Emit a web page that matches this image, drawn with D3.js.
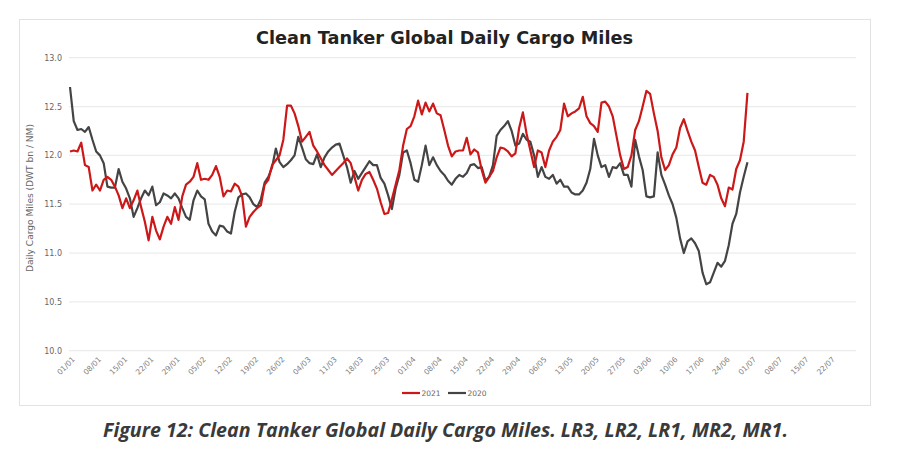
<!DOCTYPE html>
<html>
<head>
<meta charset="utf-8">
<script src="https://cdnjs.cloudflare.com/ajax/libs/d3/7.8.5/d3.min.js"></script>
<style>
  body { margin: 0; background: #fff; }
  svg { display: block; }
</style>
</head>
<body>
<script>
// daily values from 01/01
var startDate = "01/01/2020";
var seriesNames = ["2021", "2020"];
var seriesColors = ["#cc1818", "#444444"];

var values2021 = [
  12.04, 12.05, 12.04, 12.13, 11.90, 11.88, 11.64, 11.70, 11.64, 11.75,
  11.78, 11.75, 11.68, 11.59, 11.46, 11.56, 11.46, 11.54, 11.64, 11.47,
  11.32, 11.13, 11.37, 11.23, 11.14, 11.27, 11.37, 11.30, 11.47, 11.34,
  11.58, 11.70, 11.73, 11.78, 11.92, 11.75, 11.76, 11.75, 11.80, 11.89,
  11.78, 11.58, 11.64, 11.63, 11.71, 11.68, 11.58, 11.27, 11.37, 11.42,
  11.46, 11.49, 11.70, 11.75, 11.90, 11.95, 12.00, 12.16, 12.51, 12.51,
  12.43, 12.30, 12.14, 12.19, 12.24, 12.10, 12.04, 11.97, 11.90, 11.85,
  11.80, 11.84, 11.88, 11.92, 11.97, 11.92, 11.78, 11.64, 11.75, 11.81,
  11.83, 11.75, 11.66, 11.52, 11.40, 11.41, 11.55, 11.70, 11.85, 12.10,
  12.27, 12.30, 12.40, 12.56, 12.42, 12.54, 12.45, 12.53, 12.43, 12.41,
  12.26, 12.10, 11.99, 12.04, 12.05, 12.05, 12.18, 12.01, 12.06, 12.03,
  11.85, 11.72, 11.78, 11.84, 11.98, 12.08, 12.07, 12.04, 11.99, 12.02,
  12.28, 12.44, 12.22, 12.05, 11.88, 12.05, 12.03, 11.88, 12.05, 12.14,
  12.19, 12.26, 12.53, 12.40, 12.43, 12.45, 12.48, 12.60, 12.40, 12.33,
  12.30, 12.24, 12.54, 12.55, 12.50, 12.40, 12.20, 12.00, 11.86, 11.88,
  12.00, 12.26, 12.35, 12.50, 12.66, 12.63, 12.43, 12.25, 11.98, 11.85,
  11.90, 12.01, 12.08, 12.28, 12.37, 12.25, 12.14, 12.05, 11.88, 11.72,
  11.70, 11.80, 11.78, 11.70, 11.56, 11.48, 11.67, 11.65, 11.86, 11.95,
  12.14, 12.64
];

var values2020 = [
  12.70, 12.35, 12.26, 12.27, 12.24, 12.29, 12.16, 12.04, 12.00, 11.92,
  11.68, 11.67, 11.67, 11.86, 11.73, 11.66, 11.56, 11.37, 11.46, 11.56,
  11.64, 11.59, 11.68, 11.49, 11.52, 11.61, 11.59, 11.56, 11.61, 11.56,
  11.46, 11.37, 11.34, 11.54, 11.64, 11.58, 11.55, 11.30, 11.22, 11.18,
  11.28, 11.27, 11.22, 11.20, 11.42, 11.57, 11.60, 11.61, 11.57, 11.50,
  11.47, 11.55, 11.72, 11.78, 11.88, 12.07, 11.93, 11.88, 11.91, 11.95,
  12.00, 12.19, 12.08, 11.96, 11.92, 11.91, 12.01, 11.88, 11.98, 12.04,
  12.08, 12.11, 12.12, 12.00, 11.88, 11.72, 11.84, 11.76, 11.82, 11.88,
  11.94, 11.90, 11.90, 11.77, 11.71, 11.59, 11.45, 11.66, 11.80, 12.03,
  12.05, 11.92, 11.75, 11.73, 11.90, 12.10, 11.90, 11.98, 11.90, 11.84,
  11.80, 11.74, 11.70, 11.76, 11.80, 11.78, 11.82, 11.90, 11.91, 11.87,
  11.88, 11.74, 11.78, 11.90, 12.20, 12.26, 12.30, 12.35, 12.25, 12.10,
  12.12, 12.22, 12.16, 12.14, 12.00, 11.78, 11.88, 11.78, 11.76, 11.80,
  11.71, 11.75, 11.68, 11.68, 11.62, 11.60, 11.60, 11.64, 11.72, 11.86,
  12.17, 12.00, 11.88, 11.90, 11.78, 11.88, 11.87, 11.92, 11.80, 11.80,
  11.68, 12.16, 11.99, 11.85, 11.58, 11.57, 11.58, 12.03, 11.80, 11.70,
  11.59, 11.50, 11.36, 11.15, 11.00, 11.12, 11.15, 11.10, 11.02, 10.80,
  10.68, 10.70, 10.80, 10.90, 10.86, 10.92, 11.08, 11.30, 11.40, 11.62,
  11.78, 11.93
];

var tickLabels = ["01/01","08/01","15/01","22/01","29/01","05/02","12/02","19/02",
  "26/02","04/03","11/03","18/03","25/03","01/04","08/04","15/04","22/04","29/04",
  "06/05","13/05","20/05","27/05","03/06","10/06","17/06","24/06","01/07","08/07",
  "15/07","22/07"];
var axisEnd = "29/07/2020";
var yTicks = [10.0, 10.5, 11.0, 11.5, 12.0, 12.5, 13.0];

var title = "Clean Tanker Global Daily Cargo Miles";
var yTitle = "Daily Cargo Miles (DWT bn / NM)";
var caption = "Figure 12: Clean Tanker Global Daily Cargo Miles. LR3, LR2, LR1, MR2, MR1.";

var width = 902, height = 462;
var parse = d3.timeParse("%d/%m/%Y");
var t0 = parse(startDate);

var svg = d3.select("body").append("svg")
    .attr("width", width).attr("height", height);

// chart frame
svg.append("rect")
    .attr("x", 19.5).attr("y", 19.5)
    .attr("width", 851).attr("height", 386)
    .attr("fill", "#fff").attr("stroke", "#e2e2e2");

var x = d3.scaleTime()
    .domain([t0, parse(axisEnd)])
    .range([70, 856]);
var y = d3.scaleLinear()
    .domain([10, 13])
    .range([350.7, 57.7]);

// gridlines
svg.append("g").selectAll("line").data(yTicks).enter().append("line")
    .attr("x1", 69).attr("x2", 856)
    .attr("y1", function(d){ return y(d); })
    .attr("y2", function(d){ return y(d); })
    .attr("stroke", "#ececec").attr("stroke-width", 1.2);

// y axis labels
var yAxis = d3.axisLeft(y).tickValues(yTicks).tickFormat(d3.format(".1f")).tickSize(0).tickPadding(0);
var yg = svg.append("g").attr("transform", "translate(62,0)").call(yAxis);
yg.select(".domain").remove();
yg.selectAll("text").attr("font-family", "DejaVu Sans").attr("font-size", 8).attr("fill", "#666");

// x axis labels
var tickDates = tickLabels.map(function(s){ return parse(s + "/2020"); });
var xAxis = d3.axisBottom(x).tickValues(tickDates).tickFormat(d3.timeFormat("%d/%m")).tickSize(0);
var xg = svg.append("g").attr("transform", "translate(0,355)").call(xAxis);
xg.select(".domain").remove();
xg.selectAll("text")
    .attr("font-family", "DejaVu Sans").attr("font-size", 7.5).attr("fill", "#808080")
    .attr("text-anchor", "end")
    .attr("dy", "0.35em")
    .attr("transform", "translate(1,1) rotate(-45)");

// lines
var line = d3.line()
    .x(function(d, i){ return x(d3.timeDay.offset(t0, i)); })
    .y(function(d){ return y(d); });

[values2020, values2021].forEach(function(vals, k) {
  svg.append("path")
      .attr("d", line(vals))
      .attr("fill", "none")
      .attr("stroke", k === 0 ? seriesColors[1] : seriesColors[0])
      .attr("stroke-width", 2.2)
      .attr("stroke-linejoin", "round");
});

// title
svg.append("text")
    .attr("x", 444.5).attr("y", 43.5)
    .attr("text-anchor", "middle")
    .attr("font-family", "DejaVu Sans").attr("font-weight", "bold")
    .attr("font-size", 18).attr("fill", "#222")
    .attr("textLength", 377).attr("lengthAdjust", "spacingAndGlyphs")
    .text(title);

// y title
svg.append("text")
    .attr("transform", "translate(33,198) rotate(-90)")
    .attr("text-anchor", "middle")
    .attr("font-family", "DejaVu Sans").attr("font-size", 8.5).attr("fill", "#666")
    .attr("textLength", 148).attr("lengthAdjust", "spacingAndGlyphs")
    .text(yTitle);

// legend
var legendX = [402, 448];
seriesNames.forEach(function(name, i) {
  var g = svg.append("g").attr("transform", "translate(" + legendX[i] + ",393)");
  g.append("line").attr("x1", 0).attr("x2", 18).attr("y1", 0).attr("y2", 0)
      .attr("stroke", seriesColors[i]).attr("stroke-width", 2.2);
  g.append("text").attr("x", 19.5).attr("y", 2.7)
      .attr("font-family", "DejaVu Sans").attr("font-size", 7.5).attr("fill", "#666")
      .text(name);
});

// caption
svg.append("text")
    .attr("x", 103).attr("y", 437)
    .attr("font-family", "Open Sans").attr("font-weight", "bold").attr("font-style", "italic")
    .attr("font-size", 19).attr("fill", "#3a3a3a")
    .attr("textLength", 685).attr("lengthAdjust", "spacingAndGlyphs")
    .text(caption);
</script>
</body>
</html>
